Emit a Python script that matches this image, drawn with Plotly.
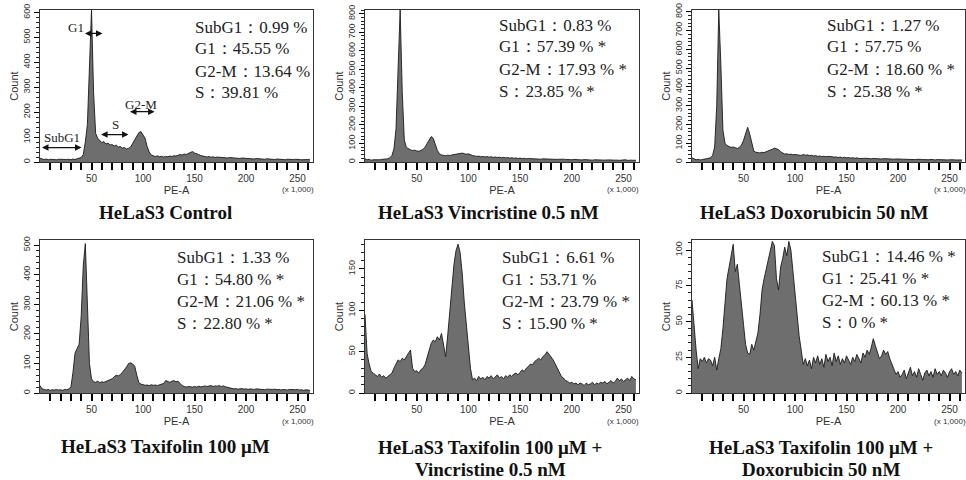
import plotly.graph_objects as go

# ---------------- data ----------------
# PE-A channel bins (x 1,000), bin width 2
PE_A = list(range(0, 263, 2))

control = [15,12,10,12,9,11,10,12,9,11,
           10,12,9,10,11,9,12,10,13,14,
           18,30,80,150,400,610,280,115,95,85,
           78,82,72,76,68,70,64,68,60,62,
           56,58,52,55,60,75,90,100,118,122,
           108,95,62,40,28,24,22,25,21,23,
           20,22,21,24,22,25,24,27,30,28,
           32,30,34,38,42,36,34,30,26,24,
           22,20,22,19,21,18,20,19,17,19,
           18,16,18,17,15,17,16,14,16,15,
           14,15,13,14,12,14,13,12,13,11,
           13,12,11,12,10,12,11,10,11,9,
           11,10,9,10,11,9,10,9,10,8,
           10,9]
vincristine = [18,12,14,10,12,11,13,12,14,13,
               16,18,22,35,70,180,480,820,380,120,
               78,70,66,62,64,60,58,62,68,80,
               100,125,137,128,100,62,45,38,36,34,
               37,35,38,40,42,46,44,48,45,42,
               44,38,35,33,30,32,28,30,27,29,
               26,28,25,27,24,26,23,25,22,24,
               21,23,20,22,19,21,18,20,17,19,
               18,17,18,16,17,15,17,16,15,16,
               14,16,15,14,15,13,15,14,13,14,
               12,14,13,12,13,11,13,12,11,12,
               10,12,11,10,12,11,10,11,9,11,
               10,12,10,9,11,10,12,9,11,10,
               9,10]
doxorubicin = [22,15,12,14,11,13,15,14,18,22,
               35,80,300,810,520,170,100,88,82,78,
               80,74,72,78,90,115,150,185,150,95,
               58,52,50,48,52,50,55,58,62,68,
               74,72,66,55,48,42,44,40,42,38,
               40,37,38,35,40,36,38,34,36,32,
               34,30,32,29,31,28,30,27,28,26,
               27,24,26,23,25,22,24,21,23,20,
               22,19,21,19,20,18,20,17,19,18,
               17,19,16,18,17,15,17,16,15,16,
               14,16,15,14,15,13,15,14,13,14,
               12,14,13,12,13,12,14,12,11,13,
               12,11,13,12,11,12,10,12,11,10,
               12,11]
taxifolin = [25,14,12,10,12,9,11,10,12,10,
             11,9,12,11,14,20,70,135,150,165,
             260,430,505,330,100,48,38,36,40,35,
             38,36,40,42,45,48,55,60,58,62,
             70,78,88,100,102,98,90,60,35,30,
             28,26,27,25,28,26,27,25,28,30,
             32,42,38,36,40,42,38,40,32,25,
             22,20,22,21,20,22,20,23,21,22,
             24,22,23,25,22,24,23,25,22,24,
             21,19,17,15,14,15,13,14,15,13,
             14,12,14,13,12,14,13,12,13,11,
             13,12,11,12,13,11,12,10,12,11,
             10,12,11,10,11,12,10,11,9,11,
             10,9]
taxi_vinc = [95,48,35,26,24,22,20,23,19,21,
             18,20,22,24,30,36,40,38,42,40,
             44,48,52,30,26,27,24,28,30,34,
             42,52,60,64,62,68,64,72,60,44,
             70,100,130,155,172,180,170,145,110,80,
             52,30,16,18,15,20,17,19,16,20,
             18,21,17,19,22,18,20,17,21,19,
             22,20,23,24,22,25,28,26,30,32,
             35,34,38,40,42,40,44,46,50,47,
             44,40,35,30,24,20,18,15,14,12,
             13,11,12,10,12,11,9,12,10,11,
             13,10,12,11,13,12,14,11,13,15,
             12,14,18,15,17,14,16,18,15,20,
             17,16]
taxi_doxo = [65,45,30,17,24,22,25,21,24,23,
             19,25,16,24,31,45,60,80,88,95,
             104,85,90,76,60,48,34,28,27,34,
             30,36,42,55,72,80,86,92,100,106,
             103,80,72,88,94,102,96,106,100,84,
             70,52,40,30,20,24,19,23,17,25,
             21,26,20,24,18,27,22,25,19,28,
             22,26,20,24,21,26,23,20,25,22,
             27,24,21,28,25,30,27,32,38,33,
             28,24,26,30,27,29,24,20,16,13,
             15,11,13,16,10,14,18,12,15,11,
             17,13,9,14,16,12,15,11,17,13,
             15,12,16,14,11,15,17,13,15,12,
             16,14]

titles = [["HeLaS3 Control"],
          ["HeLaS3 Vincristine 0.5 nM"],
          ["HeLaS3 Doxorubicin 50 nM"],
          ["HeLaS3 Taxifolin 100 μM"],
          ["HeLaS3 Taxifolin 100 μM +", "Vincristine 0.5 nM"],
          ["HeLaS3 Taxifolin 100 μM +", "Doxorubicin 50 nM"]]

stats = [["SubG1：0.99 %", "G1：45.55 %", "G2-M：13.64 %", "S：39.81 %"],
         ["SubG1：0.83 %", "G1：57.39 % *", "G2-M：17.93 % *", "S：23.85 % *"],
         ["SubG1：1.27 %", "G1：57.75 %", "G2-M：18.60 % *", "S：25.38 % *"],
         ["SubG1：1.33 %", "G1：54.80 % *", "G2-M：21.06 % *", "S：22.80 % *"],
         ["SubG1：6.61 %", "G1：53.71 %", "G2-M：23.79 % *", "S：15.90 % *"],
         ["SubG1：14.46 % *", "G1：25.41 % *", "G2-M：60.13 % *", "S：0 % *"]]

series = [control, vincristine, doxorubicin, taxifolin, taxi_vinc, taxi_doxo]
y_max = [610, 820, 810, 517, 185, 107]
y_major = [100, 100, 100, 100, 50, 25]
y_minor = [20, 20, 20, 20, 10, 5]
x_ticks = [50, 100, 150, 200, 250]
x_minor_ticks = list(range(10, 261, 10))

# ---------------- layout geometry (pixels) ----------------
W, H = 966, 480
def fx(p): return p / W
def fy(p): return 1 - p / H

cols = [(40, 313), (365, 639), (692, 965)]
rows = [(10, 162), (240, 393)]
title_cx = [165, 488, 814, 165, 490, 821]
title_y = [212, 212, 212, 446, 447, 447]
stat_x = [193, 497, 825, 175, 500, 820]
stat_y0 = [27, 25, 25, 257, 257, 256]

SERIF = "Liberation Serif, Times New Roman, serif"
SANS = "Liberation Sans, Arial, sans-serif"

fig = go.Figure()
annotations = []
layout = dict(width=W, height=H, margin=dict(l=0, r=0, t=0, b=0),
              template="none",
              paper_bgcolor="white", plot_bgcolor="white", showlegend=False)

for i, vals in enumerate(series):
    k = i + 1
    xa = "x" if k == 1 else f"x{k}"
    ya = "y" if k == 1 else f"y{k}"
    c = cols[i % 3]
    r = rows[i // 3]
    fig.add_trace(go.Scatter(x=PE_A[:len(vals)], y=vals, mode="lines",
                             fill="tozeroy", fillcolor="#6e6e6e",
                             line=dict(color="#1a1a1a", width=0.9),
                             xaxis=xa, yaxis=ya, hoverinfo="skip"))
    layout["xaxis" if k == 1 else f"xaxis{k}"] = dict(
        domain=[fx(c[0]), fx(c[1])], anchor=ya, range=[0, 265],
        tickmode="array", tickvals=x_ticks,
        ticks="outside", ticklen=7, tickwidth=1.6, tickcolor="#000000",
        minor=dict(tickmode="array", tickvals=x_minor_ticks, ticks="outside",
                   ticklen=7, tickwidth=1.6, tickcolor="#000000", showgrid=False),
        showline=True, linecolor="#333", linewidth=1, mirror=True,
        showgrid=False, zeroline=False,
        tickfont=dict(family=SANS, size=10, color="#333"),
        title=dict(text="PE-A", font=dict(family=SANS, size=11, color="#333"),
                   standoff=1))
    layout["yaxis" if k == 1 else f"yaxis{k}"] = dict(
        domain=[fy(r[1]), fy(r[0])], anchor=xa, range=[0, y_max[i]],
        tickmode="linear", dtick=y_major[i], tick0=0, tickangle=-90,
        ticks="outside", ticklen=5, tickwidth=1.3, tickcolor="#000000",
        minor=dict(tickmode="linear", dtick=y_minor[i], tick0=0,
                   ticks="outside", ticklen=3, tickwidth=1.1,
                   tickcolor="#222", showgrid=False),
        showline=True, linecolor="#333", linewidth=1, mirror=True,
        showgrid=False, zeroline=False,
        tickfont=dict(family=SANS, size=9, color="#333"),
        title=dict(text="Count", font=dict(family=SANS, size=11, color="#333"),
                   standoff=1))
    # (x 1,000)
    annotations.append(dict(text="(x 1,000)", x=250, xref=xa, y=fy(r[1] + 28),
                            yref="paper", showarrow=False, xanchor="center",
                            yanchor="middle",
                            font=dict(family=SANS, size=8, color="#333")))
    # panel title
    for j, line in enumerate(titles[i]):
        annotations.append(dict(text=f"<b>{line}</b>", x=fx(title_cx[i]),
                                y=fy(title_y[i] + 22 * j), xref="paper",
                                yref="paper", showarrow=False,
                                xanchor="center", yanchor="middle",
                                font=dict(family=SERIF, size=19, color="#111")))
    # statistics
    for j, line in enumerate(stats[i]):
        annotations.append(dict(text=line, x=fx(stat_x[i]),
                                y=fy(stat_y0[i] + 22 * j), xref="paper",
                                yref="paper", showarrow=False,
                                xanchor="left", yanchor="middle",
                                font=dict(family=SERIF, size=17, color="#222")))

# phase markers on the control histogram
phase_labels = [("G1", 35.4, 540), ("S", 72.8, 150), ("G2-M", 97.6, 230),
                ("SubG1", 21.8, 98)]
for txt, x, y in phase_labels:
    annotations.append(dict(text=txt, x=x, y=y, xref="x", yref="y",
                            showarrow=False, xanchor="center", yanchor="middle",
                            font=dict(family=SERIF, size=13, color="#222")))
phase_arrows = [(42.2, 60.7, 516), (57.8, 85.9, 110), (85.9, 111.2, 202),
                (0.5, 40.3, 58)]
for x0, x1, y in phase_arrows:
    annotations.append(dict(text="", x=x1, y=y, ax=x0, ay=y, xref="x", yref="y",
                            axref="x", ayref="y", showarrow=True,
                            arrowhead=2, startarrowhead=2, arrowside="end+start",
                            arrowsize=1, startarrowsize=1, arrowwidth=1.3,
                            arrowcolor="#111"))

layout["annotations"] = annotations
fig.update_layout(**layout)
fig.write_html("out.html")
